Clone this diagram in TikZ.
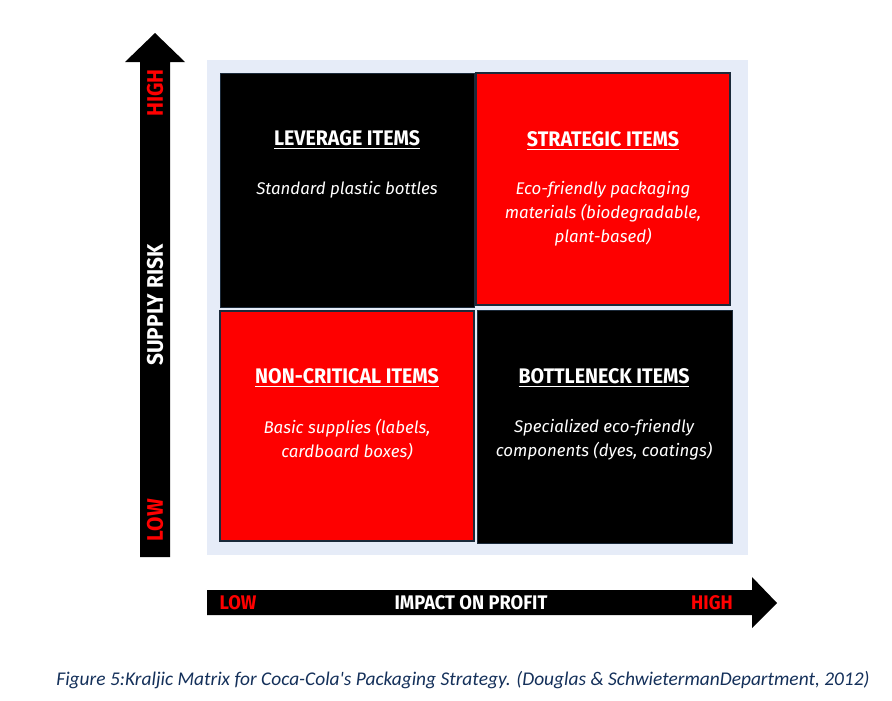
\documentclass[tikz,border=0pt]{standalone}
\usepackage{fontspec}
\setmainfont{Fira Sans}
\newfontfamily\capfont{Carlito}
\usepackage{tikz}
\usetikzlibrary{positioning}

\definecolor{panelblue}{HTML}{E6ECF8}
\definecolor{boxred}{HTML}{FE0000}
\definecolor{boxedge}{HTML}{1B2A3A}
\definecolor{capblue}{HTML}{14305A}

\newcommand{\narrow}[1]{\scalebox{0.93}[1]{#1}}

\begin{document}
\begin{tikzpicture}[x=0.025cm,y=-0.025cm,
	ttl/.style={text=white,font=\bfseries\fontsize{15}{17}\selectfont},
	dsc/.style={text=white,align=center,font=\itshape\fontsize{12}{17}\selectfont},
	axlbl/.style={text=white,font=\bfseries\fontsize{14}{16}\selectfont},
	lvl/.style={text=red,font=\bfseries\fontsize{14}{16}\selectfont},
	vlbl/.style={rotate=90,font=\bfseries\fontsize{16}{18}\selectfont}]
	\useasboundingbox (0,0) rectangle (892,700);
	% panel
	\fill[panelblue] (207,60) rectangle (748,555);
	% quadrants
	\filldraw[fill=black,draw=boxedge] (220,73) rectangle (474,307);
	\filldraw[fill=boxred,draw=boxedge,line width=1pt] (476,73) rectangle (730,305);
	\filldraw[fill=boxred,draw=boxedge,line width=1pt] (220,311) rectangle (474,541);
	\filldraw[fill=black,draw=boxedge] (477,310) rectangle (732,543);
	%
	\node[ttl] (lev) at (347,140) {\narrow{\underline{LEVERAGE ITEMS}}};
	\node[dsc] (levd) at (347,190) {Standard plastic bottles};
	\node[ttl] (str) at (603,141) {\narrow{\underline{STRATEGIC ITEMS}}};
	\node[dsc] (strd) at (603,214) {Eco-friendly packaging\\materials (biodegradable,\\plant-based)};
	\node[ttl] (non) at (347,378) {\narrow{\underline{NON-CRITICAL ITEMS}}};
	\node[dsc] (nond) at (347,440) {Basic supplies (labels,\\cardboard boxes)};
	\node[ttl] (bot) at (604,378) {\narrow{\underline{BOTTLENECK ITEMS}}};
	\node[dsc] (botd) at (604,440) {Specialized eco-friendly\\components (dyes, coatings)};
	% vertical arrow
	\fill (140,557) -- (140,62) -- (125,62) -- (155,33) -- (185,62) -- (170,62) -- (170,557) -- cycle;
	\node[vlbl,text=red] (yhi) at (155,93) {\narrow{HIGH}};
	\node[vlbl,text=white] (ylbl) at (155,305) {\narrow{SUPPLY RISK}};
	\node[vlbl,text=red] (ylo) at (155,520) {\narrow{LOW}};
	% horizontal arrow
	\fill (207,590) -- (752,590) -- (752,577) -- (777,603) -- (752,628) -- (752,615) -- (207,615) -- cycle;
	\node[lvl] (xlo) at (238,603) {\narrow{LOW}};
	\node[axlbl] (xlbl) at (471,603) {\narrow{IMPACT ON PROFIT}};
	\node[lvl] (xhi) at (712,603) {\narrow{HIGH}};
	% caption
	\node[text=capblue,font=\capfont\itshape\fontsize{13.8}{15}\selectfont] (cap) at (463,680)
		{Figure 5:Kraljic Matrix for Coca-Cola's Packaging Strategy. (Douglas \& SchwietermanDepartment, 2012)};
\end{tikzpicture}
\end{document}
